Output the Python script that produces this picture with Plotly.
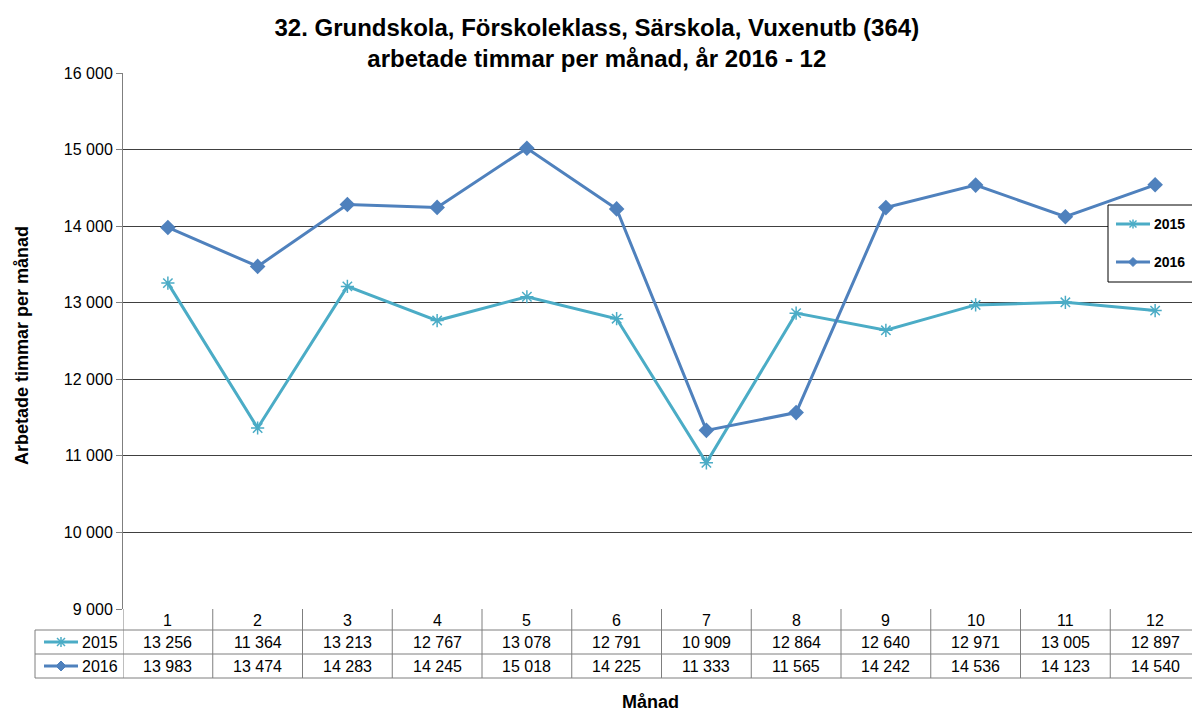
import plotly.graph_objects as go

months = [1, 2, 3, 4, 5, 6, 7, 8, 9, 10, 11, 12]
hours_2015 = [13256, 11364, 13213, 12767, 13078, 12791, 10909, 12864, 12640, 12971, 13005, 12897]
hours_2016 = [13983, 13474, 14283, 14245, 15018, 14225, 11333, 11565, 14242, 14536, 14123, 14540]
y_ticks = [9000, 10000, 11000, 12000, 13000, 14000, 15000, 16000]

C15 = "#4BACC6"
C16 = "#4F81BD"
GRID = "#404040"
TBL = "#7F7F7F"
FONT = "Liberation Sans, Arial, sans-serif"

# the page body has an 8px margin, so the figure is laid out in
# reference-screen pixels minus that offset
OFF = 8
W, H = 1200 - OFF, 711 - OFF
L, R, T, B = 123 - OFF, 0, 73 - OFF, 711 - 609
PH = H - T - B
PW = W - L - R


def py(pix):
    # screen pixel row -> paper y
    return (H - B - (pix - OFF)) / PH


def px(pix):
    # screen pixel column -> paper x
    return (pix - OFF - L) / PW


def sp(n):
    return f"{n:,}".replace(",", " ")


def line(x0, y0, x1, y1, color, width=1, xref="paper"):
    return dict(type="line", xref=xref, yref="paper", x0=x0, x1=x1, y0=y0, y1=y1,
                line=dict(color=color, width=width))


def label(x, y, text, size=16, xref="paper", xanchor="center", angle=0):
    return dict(x=x, y=y, xref=xref, yref="paper", text=text, showarrow=False,
                xanchor=xanchor, yanchor="middle", textangle=angle,
                font=dict(size=size, color="#000", family=FONT))


def star_key(cx, cy, r=4):
    return [line(px(cx - r), py(cy - r), px(cx + r), py(cy + r), C15, 1.5),
            line(px(cx - r), py(cy + r), px(cx + r), py(cy - r), C15, 1.5),
            line(px(cx), py(cy - r - 1), px(cx), py(cy + r + 1), C15, 1.5)]


def diamond_key(cx, cy, r=5):
    return dict(type="path", xref="paper", yref="paper",
                path=f"M {px(cx - r)},{py(cy)} L {px(cx)},{py(cy - r)} L {px(cx + r)},{py(cy)} L {px(cx)},{py(cy + r)} Z",
                fillcolor=C16, line=dict(color=C16, width=1))


fig = go.Figure()

fig.add_trace(go.Scatter(
    x=months, y=hours_2015, name="2015", mode="lines+markers",
    line=dict(color=C15, width=3),
    marker=dict(symbol="asterisk-open", size=11, color=C15, line=dict(color=C15, width=1.5)),
))
fig.add_trace(go.Scatter(
    x=months, y=hours_2016, name="2016", mode="lines+markers",
    line=dict(color=C16, width=3),
    marker=dict(symbol="diamond", size=12, color=C16),
))

shapes = []
annotations = []

# table grid
for yy in [630, 654, 678]:
    shapes.append(line(0.5, py(yy), 12.5, py(yy), TBL, xref="x"))
    shapes.append(line(px(35), py(yy), 0, py(yy), TBL))
shapes.append(line(px(35), py(630), px(35), py(678), TBL))
for i in range(13):
    shapes.append(line(i + 0.5, py(609), i + 0.5, py(678), TBL, xref="x"))

# header + values
for i, m in enumerate(months):
    annotations.append(label(m, py(620), str(m), xref="x"))
    annotations.append(label(m, py(642.5), sp(hours_2015[i]), xref="x"))
    annotations.append(label(m, py(666.5), sp(hours_2016[i]), xref="x"))

# legend keys inside the table
for name, color, yc in [("2015", C15, 642), ("2016", C16, 666)]:
    shapes.append(line(px(44), py(yc), px(78), py(yc), color, 3))
    annotations.append(label(px(120), py(yc + 0.5), name, xanchor="right"))
shapes += star_key(61, 642)
shapes.append(diamond_key(61, 666))

# legend box on the right
shapes.append(dict(type="rect", xref="paper", yref="paper", x0=px(1108), x1=px(1195),
                   y0=py(205), y1=py(282), fillcolor="white", line=dict(color="#000", width=1)))
for name, color, yc in [("2015", C15, 224), ("2016", C16, 262)]:
    shapes.append(line(px(1116), py(yc), px(1150), py(yc), color, 3))
    annotations.append(label(px(1152), py(yc), f"<b>{name}</b>", size=14, xanchor="left"))
shapes += star_key(1133, 224, 3.5)
shapes.append(diamond_key(1133, 262, 4.5))

annotations.append(label(px(650), py(702), "<b>Månad</b>", size=18))
annotations.append(label(px(22), py(346), "<b>Arbetade timmar per månad</b>", size=18, angle=-90))

fig.update_layout(
    width=W, height=H,
    margin=dict(l=L, r=R, t=T, b=B, autoexpand=False),
    paper_bgcolor="white", plot_bgcolor="white",
    title=dict(
        text="<b>32. Grundskola, Förskoleklass, Särskola, Vuxenutb (364)<br>arbetade timmar per månad, år 2016 - 12</b>",
        x=px(655), xanchor="center", y=1 - (36 - OFF) / H, yanchor="middle",
        font=dict(size=24, color="#000", family=FONT),
    ),
    showlegend=False,
    shapes=shapes,
    annotations=annotations,
)

fig.update_xaxes(range=[0.5, 12.5], showticklabels=False, showgrid=False,
                 zeroline=False, showline=False, ticks="")
fig.update_yaxes(range=[9000, 16000], tickvals=y_ticks,
                 ticktext=[sp(v) for v in y_ticks],
                 showgrid=True, gridcolor=GRID, gridwidth=1, zeroline=False,
                 showline=True, linecolor=TBL, linewidth=1,
                 ticks="outside", ticklen=6, tickcolor=TBL,
                 tickfont=dict(size=16, color="#000", family=FONT))

fig.write_html("out.html")
